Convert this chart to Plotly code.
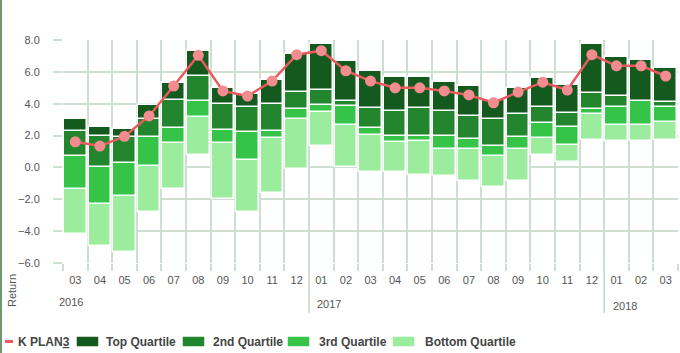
import plotly.graph_objects as go

months = ["03","04","05","06","07","08","09","10","11","12",
          "01","02","03","04","05","06","07","08","09","10","11","12",
          "01","02","03"]
years = ["2016"] * 10 + ["2017"] * 12 + ["2018"] * 3

q_min = [-4.18, -4.93, -5.29, -2.80, -1.38, 0.76, -2.00, -2.80, -1.63, -0.12,
         1.36, 0.00, -0.31, -0.31, -0.48, -0.54, -0.83, -1.25, -0.83, 0.78, 0.34, 1.72,
         1.66, 1.68, 1.72]
q_p25 = [-1.34, -2.30, -1.80, 0.09, 1.51, 3.14, 1.51, 0.46, 1.83, 3.02,
         3.46, 2.64, 2.03, 1.61, 1.66, 1.16, 1.16, 0.72, 1.13, 1.83, 1.41, 3.35,
         2.66, 2.66, 2.85]
q_med = [0.72, 0.04, 0.26, 1.93, 2.45, 4.17, 2.35, 2.24, 2.28, 3.65,
         3.92, 3.88, 2.45, 1.99, 1.99, 1.97, 1.80, 1.34, 1.93, 2.81, 2.56, 3.65,
         3.81, 4.15, 3.77]
q_p75 = [2.28, 1.99, 1.89, 3.02, 4.23, 5.76, 3.98, 3.77, 3.96, 4.75,
         4.86, 4.17, 3.75, 3.57, 3.71, 3.57, 3.25, 3.02, 3.33, 3.77, 3.43, 4.69,
         4.48, 4.19, 4.12]
q_max = [3.04, 2.56, 2.39, 3.90, 5.28, 7.33, 5.00, 4.61, 5.49, 7.12,
         7.75, 6.71, 6.07, 5.66, 5.66, 5.35, 5.11, 4.23, 4.97, 5.63, 5.15, 7.75,
         6.95, 6.73, 6.22]
k_plan3 = [1.61, 1.34, 1.95, 3.23, 5.11, 7.04, 4.80, 4.48, 5.42, 7.08,
           7.33, 6.07, 5.42, 5.00, 5.00, 4.80, 4.55, 4.06, 4.73, 5.35, 4.86, 7.08,
           6.38, 6.38, 5.74]
y_ticks = [-6, -4, -2, 0, 2, 4, 6, 8]

series_names = ["Bottom Quartile", "3rd Quartile", "2nd Quartile", "Top Quartile"]
colors = {"Top Quartile": "#145a1f", "2nd Quartile": "#23862f",
          "3rd Quartile": "#35c448", "Bottom Quartile": "#9bed9d"}
bounds = [q_min, q_p25, q_med, q_p75, q_max]

x = list(range(len(months)))
GRID = "#cddfd0"
FONT = "Liberation Sans, Arial, sans-serif"

fig = go.Figure()
for i, name in enumerate(series_names):
    lo, hi = bounds[i], bounds[i + 1]
    fig.add_trace(go.Bar(
        x=x, y=[h - l for h, l in zip(hi, lo)], base=lo, name=name,
        width=0.92, marker=dict(color=colors[name], line=dict(color="white", width=1.5)),
        showlegend=False))

fig.add_trace(go.Scatter(
    x=x, y=k_plan3, name="K PLAN3", mode="lines+markers",
    line=dict(color="#e85a5c", width=2.5),
    marker=dict(color="#f38c8e", size=11), showlegend=False))

L, R, T, B = 63, 2, 40, 90
W, H = 680, 353
pw, ph = W - L - R, H - T - B

def px_x(px):
    return (px - L) / pw

def px_y(py):
    return (H - B - py) / ph

shapes = []
# year dividers
for xv in [9.5, 21.5]:
    shapes.append(dict(type="line", xref="x", yref="paper", x0=xv, x1=xv,
                       y0=1, y1=px_y(313), line=dict(color="#c3d6c6", width=1.5), layer="below"))
# left border line
shapes.append(dict(type="line", xref="paper", yref="paper", x0=px_x(1), x1=px_x(1),
                   y0=px_y(0), y1=px_y(H), line=dict(color="#6a9a6e", width=2)))

annotations = []
# year labels
for txt, cx, cy in [("2016", 71, 302), ("2017", 329, 304), ("2018", 625, 306)]:
    annotations.append(dict(text=txt, xref="paper", yref="paper", x=px_x(cx), y=px_y(cy),
                            showarrow=False, xanchor="center", yanchor="middle",
                            font=dict(family=FONT, size=11, color="#555555")))
# y title
annotations.append(dict(text="Return", xref="paper", yref="paper", x=px_x(12), y=px_y(291),
                        textangle=-90, showarrow=False, xanchor="center", yanchor="middle",
                        font=dict(family=FONT, size=11, color="#555555")))

# custom legend
ly = 341.5
shapes.append(dict(type="line", xref="paper", yref="paper", x0=px_x(5), x1=px_x(13),
                   y0=px_y(ly), y1=px_y(ly), line=dict(color="#e85a5c", width=3)))
annotations.append(dict(text="K PLAN<u>3</u>", xref="paper", yref="paper", x=px_x(16), y=px_y(ly),
                        showarrow=False, xanchor="left", yanchor="middle",
                        font=dict(family=FONT, size=12, color="#444444", weight="bold")))
for name, bx, tx in [("Top Quartile", 77, 104), ("2nd Quartile", 183, 211),
                     ("3rd Quartile", 288, 317), ("Bottom Quartile", 393, 423)]:
    shapes.append(dict(type="rect", xref="paper", yref="paper", x0=px_x(bx), x1=px_x(bx + 21),
                       y0=px_y(337), y1=px_y(346), fillcolor=colors[name],
                       line=dict(color=colors[name], width=0.5)))
    annotations.append(dict(text=name, xref="paper", yref="paper", x=px_x(tx), y=px_y(ly),
                            showarrow=False, xanchor="left", yanchor="middle",
                            font=dict(family=FONT, size=12, color="#444444", weight="bold")))

fig.update_layout(
    width=W, height=H, margin=dict(l=L, r=R, t=T, b=B),
    paper_bgcolor="white", plot_bgcolor="white",
    barmode="overlay", bargap=0,
    font=dict(family=FONT, size=11, color="#555555"),
    shapes=shapes, annotations=annotations, showlegend=False,
    xaxis=dict(range=[-0.5, len(months) - 0.5], tickmode="array", tickvals=x, ticktext=months,
               showgrid=False, zeroline=False, ticks="", showline=False,
               ticklabelstandoff=9,
               minor=dict(tick0=-0.5, dtick=1, showgrid=True, gridcolor=GRID, gridwidth=1.5,
                          ticks="outside", ticklen=7, tickcolor=GRID, tickwidth=1.5)),
    yaxis=dict(range=[-6, 8], tickmode="array", tickvals=y_ticks, tickformat=".1f",
               showgrid=True, gridcolor=GRID, gridwidth=1.5, zeroline=False,
               ticks="outside", ticklen=9, tickcolor=GRID, tickwidth=1.5,
               ticklabelstandoff=11, showline=False),
)

fig.write_html("out.html")
